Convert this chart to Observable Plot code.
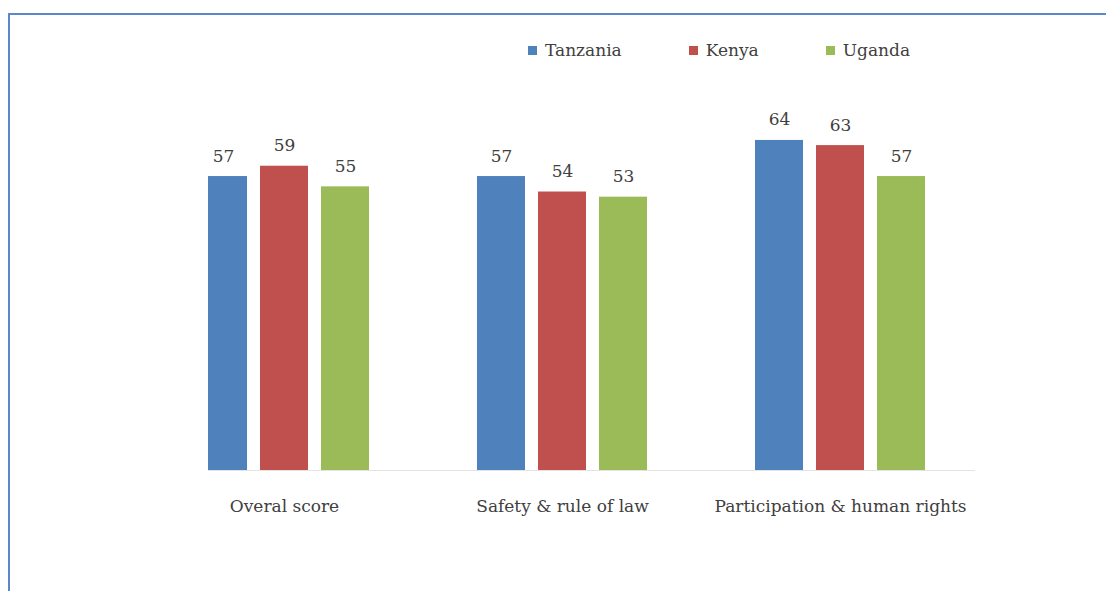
<!DOCTYPE html>
<html>
<head>
<meta charset="utf-8">
<script src="https://cdn.jsdelivr.net/npm/d3@7"></script>
<script src="https://cdn.jsdelivr.net/npm/@observablehq/plot@0.6"></script>
<style>
  html, body { margin: 0; padding: 0; background: #fff; }
  body { width: 1106px; height: 591px; overflow: hidden; position: relative; font-family: "DejaVu Serif", serif; }
  #frame { position: absolute; left: 8px; top: 13px; right: -20px; bottom: -20px;
           border-top: 2px solid #5a88c8; border-left: 2px solid #5a88c8; }
  #clip { position: absolute; left: 208px; top: 0; width: 767px; height: 591px; overflow: hidden; }
  #clip svg { position: absolute; left: -208px; top: 0; max-width: none !important; width: 1106px; height: 591px; }
  #legend { position: absolute; left: 528px; top: 40px; display: flex; gap: 67px;
            font-size: 17px; color: #404040; align-items: center; }
  #legend .item { display: flex; align-items: center; }
  #legend .sw { width: 9px; height: 9px; margin-right: 8px; display: inline-block; }
</style>
</head>
<body>
<div id="frame"></div>
<div id="clip"></div>
<div id="legend"></div>
<script>
const categories = ["Overal score", "Safety & rule of law", "Participation & human rights"];
const countries = ["Tanzania", "Kenya", "Uganda"];
const tanzania = [57, 57, 64];
const kenya = [59, 54, 63];
const uganda = [55, 53, 57];
const colors = ["#4F81BD", "#C0504D", "#9BBB59"];

const series = [tanzania, kenya, uganda];
const data = categories.flatMap((c, i) =>
  countries.map((k, j) => ({category: c, country: k, value: series[j][i]}))
);

const chart = Plot.plot({
  width: 1106,
  height: 591,
  marginLeft: 145,
  marginRight: 127,
  marginTop: 109,
  marginBottom: 121,
  style: {fontFamily: "DejaVu Serif, serif", fontSize: "17px", color: "#404040", background: "transparent", maxWidth: "none"},
  fx: {domain: categories, paddingInner: 0.28, paddingOuter: 0.14, label: null},
  x: {domain: countries, paddingInner: 0.22, paddingOuter: 0.236, axis: null},
  y: {domain: [0, 70], axis: null},
  color: {domain: countries, range: colors},
  marks: [
    Plot.frame({anchor: "bottom", stroke: "#e4e4e4", strokeWidth: 1, facet: "super", insetRight: -40}),
    Plot.barY(data, {fx: "category", x: "country", y: "value", fill: "country"}),
    Plot.text(data, {fx: "category", x: "country", y: "value", text: d => String(d.value),
      lineAnchor: "bottom", dy: -15, fill: "#404040", fontSize: 17}),
    Plot.axisFx({anchor: "bottom", tickSize: 0, tickPadding: 29, label: null, fontSize: 17, fill: "#404040"})
  ]
});
document.getElementById("clip").appendChild(chart);

const legend = document.getElementById("legend");
countries.forEach((k, j) => {
  const item = document.createElement("div");
  item.className = "item";
  const sw = document.createElement("span");
  sw.className = "sw";
  sw.style.background = colors[j];
  const t = document.createElement("span");
  t.textContent = k;
  item.appendChild(sw);
  item.appendChild(t);
  legend.appendChild(item);
});
</script>
</body>
</html>
